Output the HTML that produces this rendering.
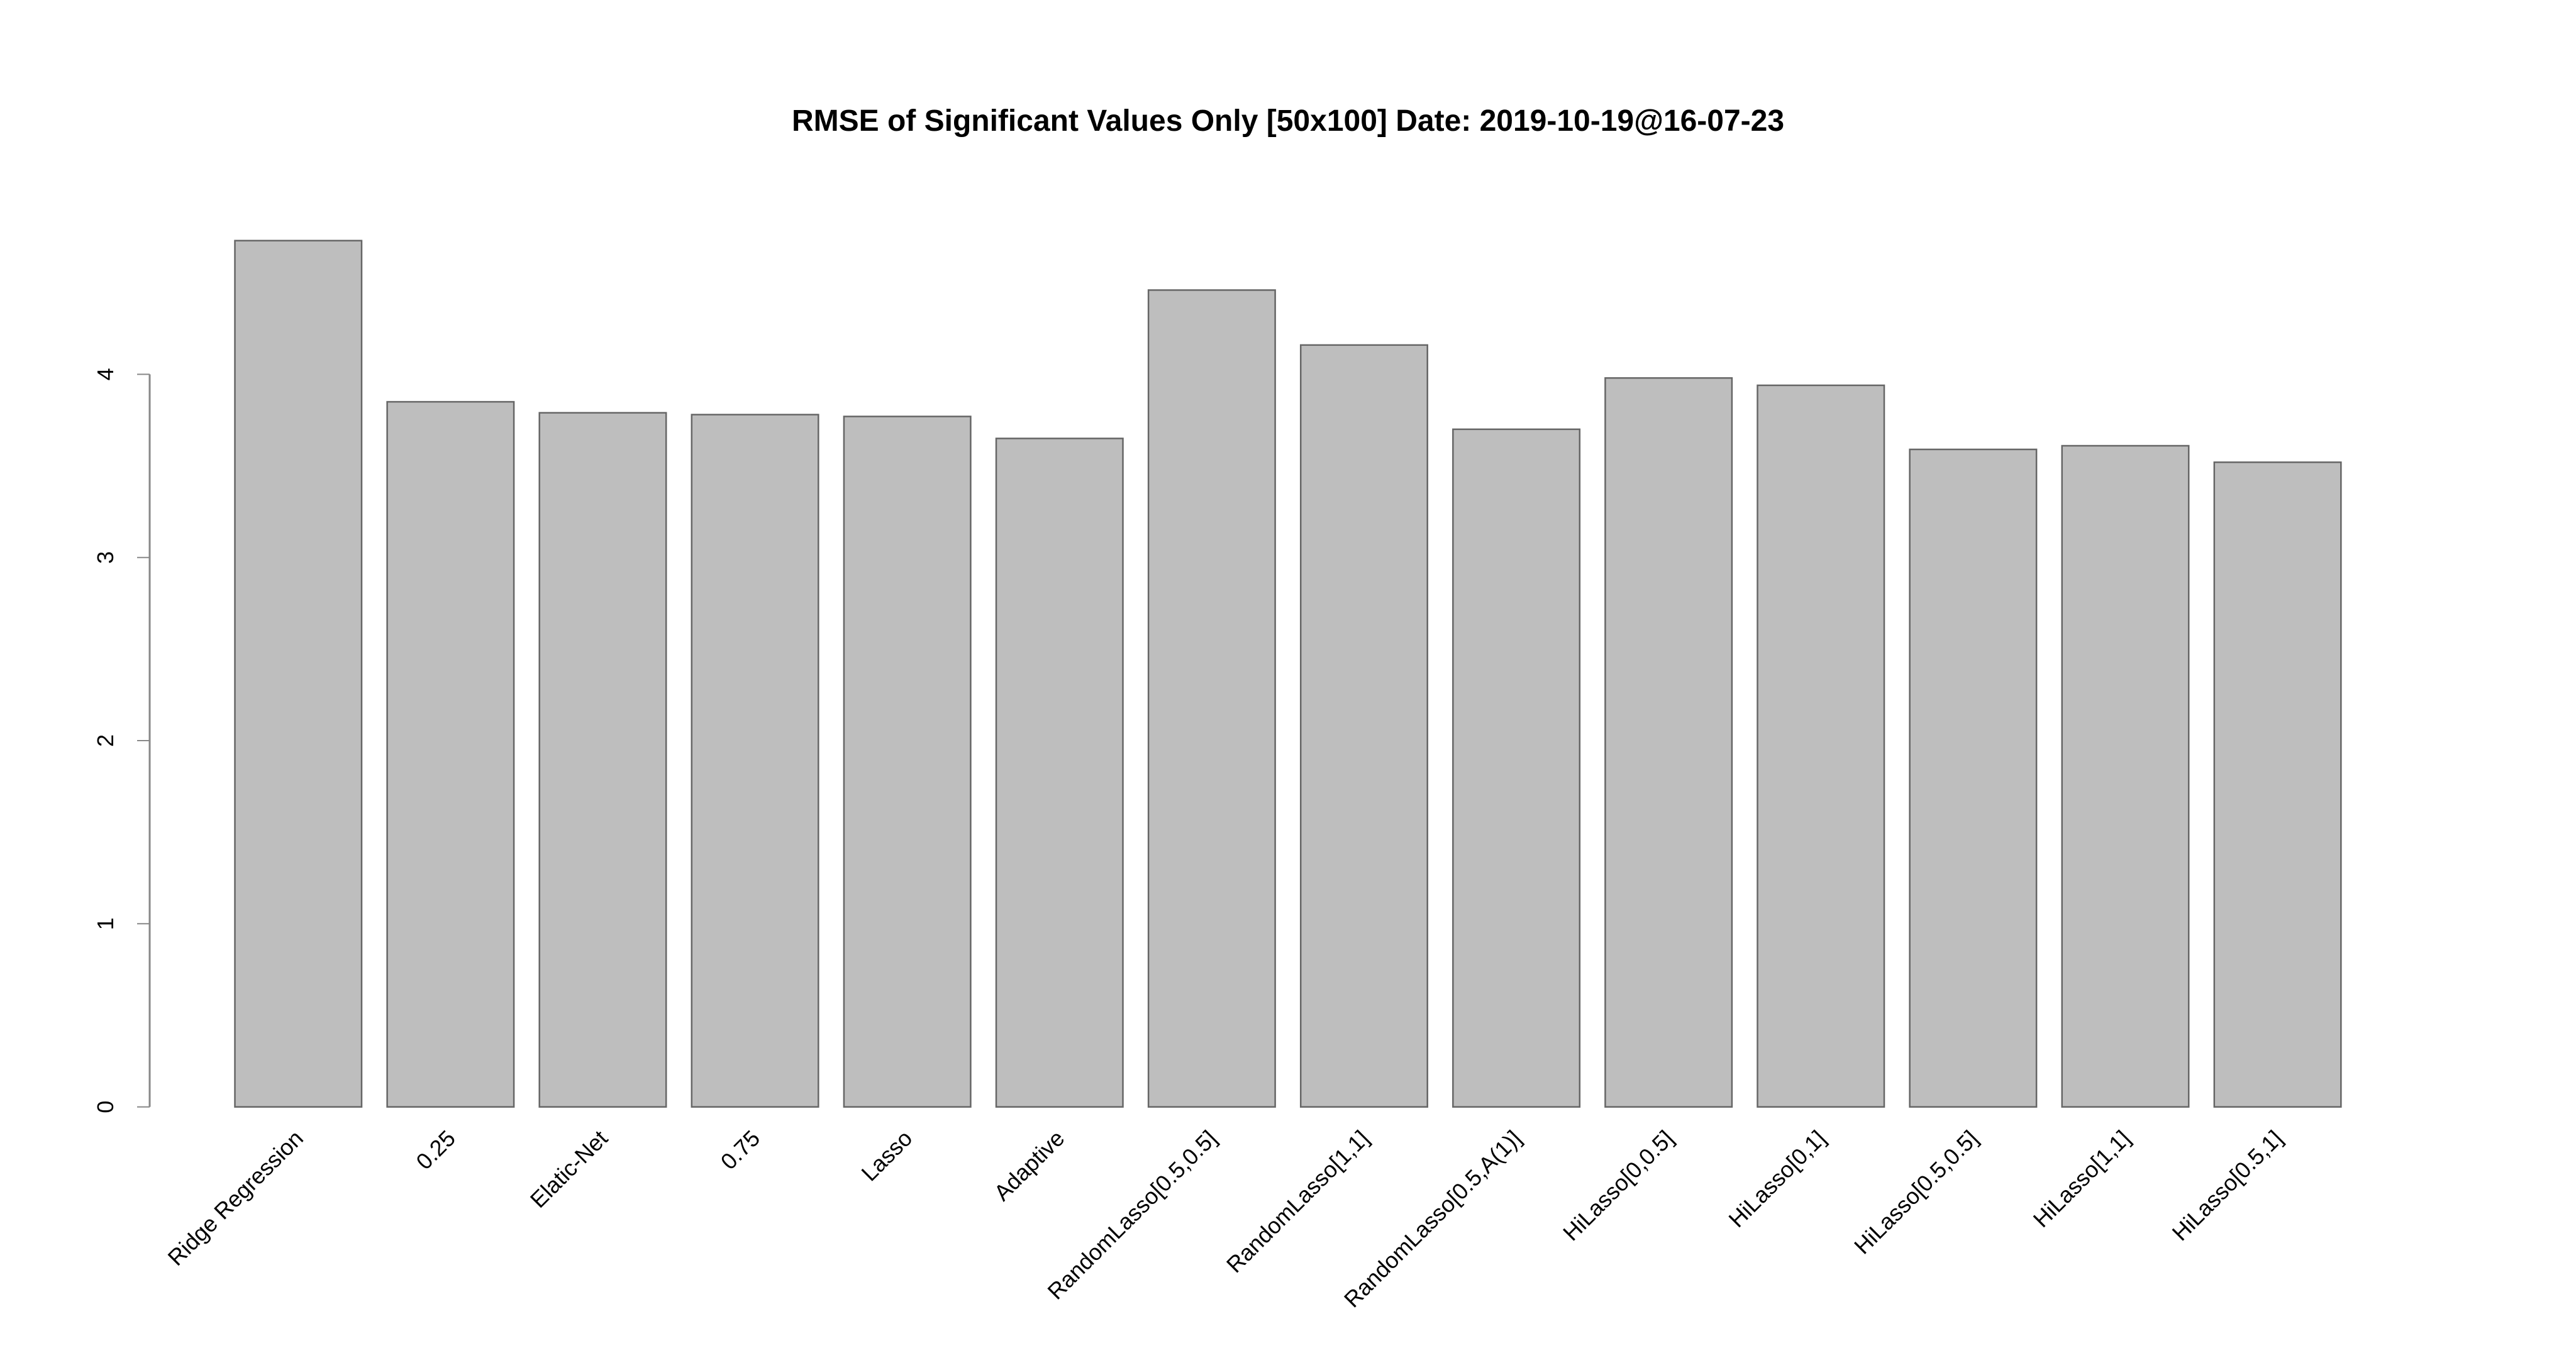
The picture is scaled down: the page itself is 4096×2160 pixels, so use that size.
<!DOCTYPE html>
<html><head><meta charset="utf-8"><style>html,body{margin:0;padding:0;background:#fff}svg{display:block}</style></head>
<body>
<svg id="chart" width="4096" height="2160" xmlns="http://www.w3.org/2000/svg" font-family="Liberation Sans, sans-serif">
<rect width="4096" height="2160" fill="#fff"/>
<text x="2048" y="208" text-anchor="middle" font-size="48" font-weight="bold">RMSE of Significant Values Only [50x100] Date: 2019-10-19@16-07-23</text>
<g id="axis"></g><g id="bars"></g><g id="xlabels"></g>
</svg>
<script>
const categories = ["Ridge Regression","0.25","Elatic-Net","0.75","Lasso","Adaptive","RandomLasso[0.5,0.5]","RandomLasso[1,1]","RandomLasso[0.5,A(1)]","HiLasso[0,0.5]","HiLasso[0,1]","HiLasso[0.5,0.5]","HiLasso[1,1]","HiLasso[0.5,1]"];
const values = [4.73,3.85,3.79,3.78,3.77,3.65,4.46,4.16,3.70,3.98,3.94,3.59,3.61,3.52];
const yTicks = [0,1,2,3,4];
const NS="http://www.w3.org/2000/svg";
const y0=1760.6, unit=291.3;
function yScale(v){return y0-v*unit;}
const barLeft0=373.5, step=242.1, barW=201.5;
function xScale(i){return barLeft0+i*step;}
function mk(tag,attrs,parent){const e=document.createElementNS(NS,tag);for(const k in attrs)e.setAttribute(k,attrs[k]);parent.appendChild(e);return e;}
const axis=document.getElementById('axis');
const ax=238;
const al=mk('line',{x1:ax,x2:ax,y1:yScale(yTicks[0]),y2:yScale(yTicks[yTicks.length-1]),stroke:'#888','stroke-width':3},axis);


yTicks.forEach(t=>{
  const l=mk('line',{x1:ax-20,x2:ax,y1:yScale(t),y2:yScale(t),stroke:'#888','stroke-width':2},axis);
  
  
  const tx=mk('text',{x:0,y:0,transform:`translate(180,${yScale(t)}) rotate(-90)`,'text-anchor':'middle','font-size':36},axis);
  
  
  tx.textContent=t;
});
const bars=document.getElementById('bars'), xl=document.getElementById('xlabels');
values.forEach((v,i)=>{
  const r=mk('rect',{x:xScale(i),y:yScale(v),width:barW,height:y0-yScale(v),fill:'#bebebe',stroke:'#666','stroke-width':2.5},bars);
  
  
  const cx=xScale(i)+barW/2;
  const t=mk('text',{x:0,y:0,transform:`translate(${cx+10},${1813}) rotate(-45)`,'text-anchor':'end','font-size':36},xl);
  
  
  t.textContent=categories[i];
});
</script>
</body></html>
